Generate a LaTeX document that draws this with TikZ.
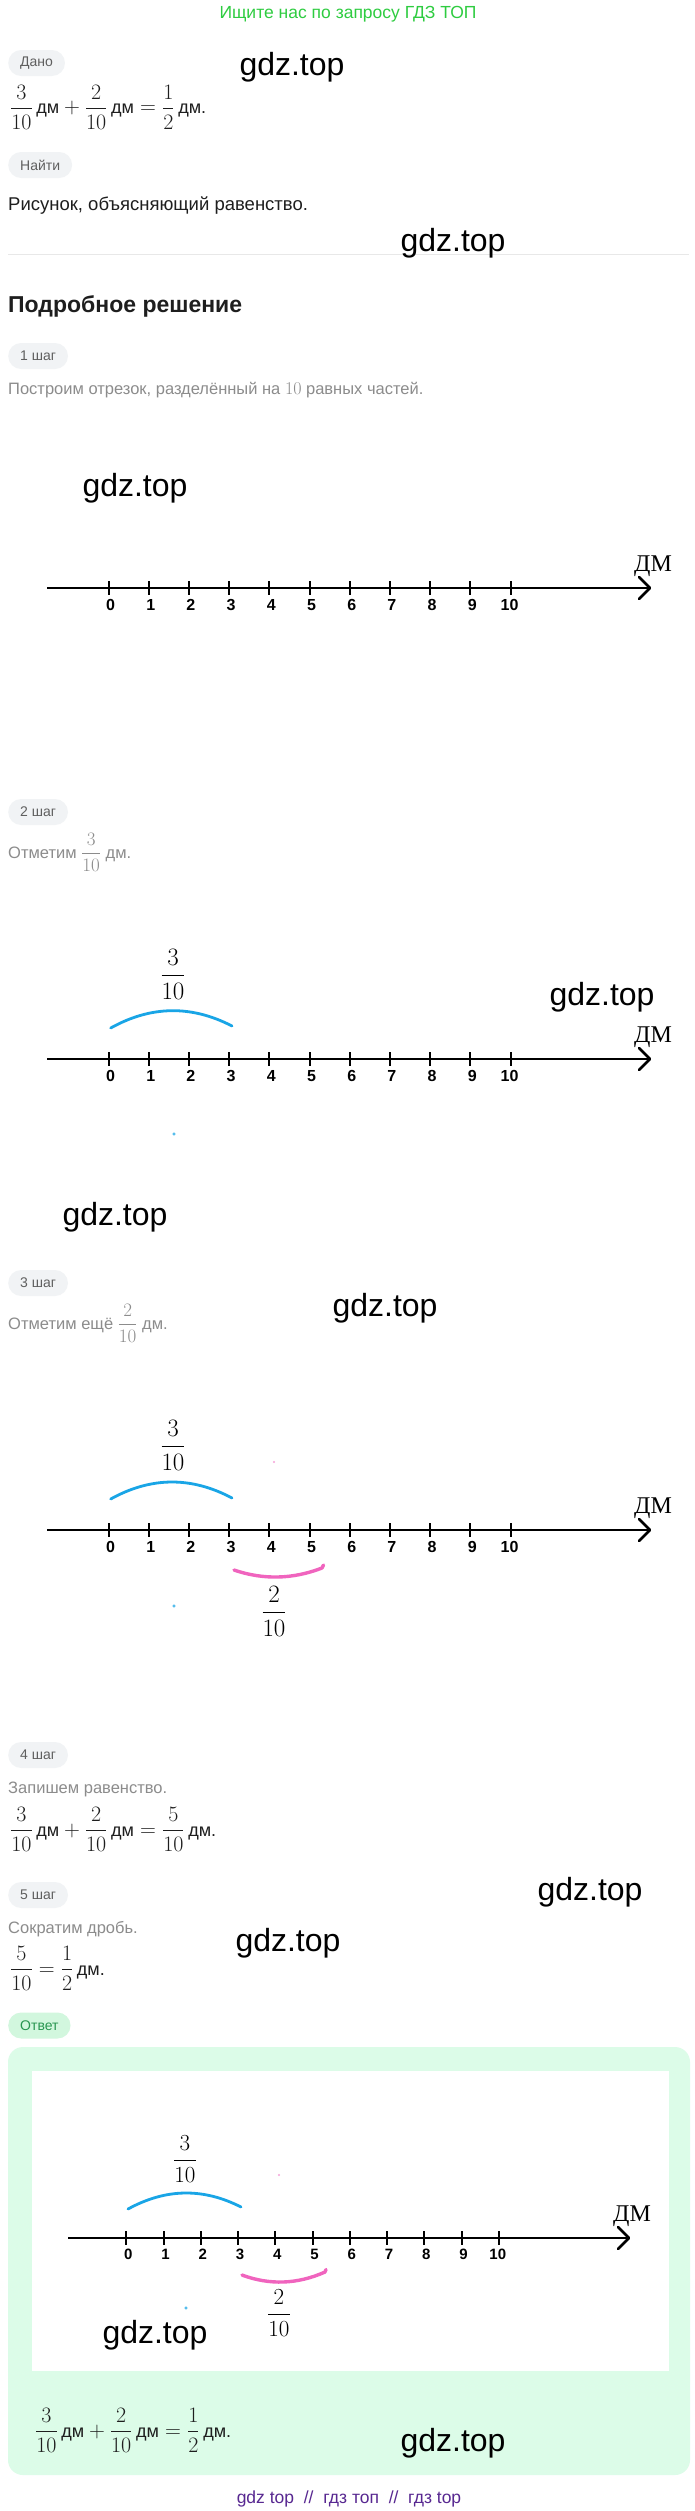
\RequirePackage{fix-cm}
\documentclass[tikz,border=0pt]{standalone}
\usepackage{amsmath}
\usepackage{fontspec}
\setmainfont{Liberation Sans}
\newfontfamily\serifru{Liberation Serif}
\definecolor{hdrgreen}{RGB}{46,204,64}
\definecolor{pillgray}{RGB}{241,243,245}
\definecolor{pilltext}{RGB}{95,95,95}
\definecolor{steptext}{RGB}{140,140,140}
\definecolor{bodytext}{RGB}{30,30,30}
\definecolor{arcblue}{RGB}{25,165,230}
\definecolor{arcpink}{RGB}{240,100,190}
\definecolor{ansfill}{RGB}{220,252,232}
\definecolor{anspill}{RGB}{210,247,222}
\definecolor{anstext}{RGB}{40,150,80}
\definecolor{footpurple}{RGB}{88,40,145}
\definecolor{sepgray}{RGB}{232,232,232}
\newcommand\dmu{\text{\fontsize{18}{20}\selectfont дм}}
\newcommand\dmp{\text{\fontsize{18}{20}\selectfont дм.}}
\newcommand\numaxis[7]{%
  % #1 prefix, #2 x0, #3 dx, #4 y, #5 xstart, #6 xend(tip), #7 label size
  \draw[axisline] (#5,#4) coordinate (#1s) -- (#6,#4) coordinate (#1e);
  \draw[axisline, line join=round, line cap=round] (#6-11,#4-11) -- (#1e) -- (#6-11,#4+11);
  \foreach \i in {0,...,10} {
    \pgfmathsetmacro\xx{#2+\i*#3}
    \pgfmathsetmacro\lx{\xx+(\i<10 ? 2 : -1)}
    \draw[tickline] (\xx,#4-7) -- (\xx,#4+7);
    \node[ticklbl, font=\bfseries\fontsize{#7}{#7}\selectfont] (#1n\i) at (\lx,#4+6+#7) {\i};
  }
  \node[dmlbl] (#1dm) at (#6+3,#4-17) {ДМ};
}
\begin{document}
\begin{tikzpicture}[x=1pt,y=-1pt,
  pill/.style={rounded corners=13pt, fill=pillgray, minimum height=26pt, inner xsep=12pt, inner ysep=0pt, anchor=west, text=pilltext, font=\fontsize{14}{16}\selectfont},
  txt/.style={inner sep=0pt, anchor=base west},
  steptxt/.style={inner sep=0pt, anchor=base west, text=steptext, font=\fontsize{16.5}{19}\selectfont},
  eqn/.style={inner sep=0pt, anchor=west, text=bodytext, font=\fontsize{22}{26}\selectfont},
  wm/.style={inner sep=0pt, font=\fontsize{32}{36}\selectfont, text=black},
  axisline/.style={line width=2.6pt},
  tickline/.style={line width=2pt},
  ticklbl/.style={inner sep=0pt, anchor=base},
  dmlbl/.style={inner sep=0pt, anchor=base, font=\serifru\fontsize{24}{26}\selectfont},
  frac/.style={inner sep=0pt, font=\fontsize{25}{30}\selectfont},
  barc/.style={draw=arcblue, line width=2.8pt, line cap=round},
  parc/.style={draw=arcpink, line width=3.4pt, line cap=round, line join=round},
  dotb/.style={draw=arcblue, line width=0.5pt},
  dotp/.style={fill=arcpink!60}]
\useasboundingbox (0,0) rectangle (695,2511);
\fill[white] (0,0) rectangle (695,2511);

% header
\node[inner sep=0pt, anchor=base, text=hdrgreen, font=\fontsize{17.5}{20}\selectfont] (hdr) at (348,18) {Ищите нас по запросу ГДЗ ТОП};

% Дано
\node[pill] (pDano) at (8,63) {Дано};
\node[eqn] (eqDano) at (10,107) {$\dfrac{3}{10}\,\dmu+\dfrac{2}{10}\,\dmu=\dfrac{1}{2}\,\dmp$};
\node[pill] (pFind) at (8,165) {Найти};
\node[txt, text=bodytext, font=\fontsize{18.5}{21}\selectfont] (find) at (8,210) {Рисунок, объясняющий равенство.};
\draw[sepgray, line width=1pt] (8,254) -- (689,254);
\node[txt, text=bodytext, font=\bfseries\fontsize{23}{27}\selectfont] (title) at (8,312) {Подробное решение};

% step 1
\node[pill] (p1) at (8,356) {1 шаг};
\node[steptxt] (t1) at (8,394.5) {Построим отрезок, разделённый на {\fontsize{18}{20}\selectfont$10$} равных частей.};
\numaxis{A}{108.5}{40.2}{588}{47}{650}{16}

% step 2
\node[pill] (p2) at (8,812) {2 шаг};
\node[steptxt, anchor=west] (t2) at (8,852) {Отметим {\fontsize{19}{22}\selectfont$\dfrac{3}{10}$} дм.};
\numaxis{B}{108.5}{40.2}{1059}{47}{650}{16}
\path[barc] (110.7,1028) .. controls (150.9,1005.6) and (191.3,1004.9) .. (232,1026);
\node[frac] (fB) at (173,974) {$\dfrac{3}{10}$};
\draw[dotb] (174,1134) circle (1.2);

% step 3
\node[pill] (p3) at (8,1283) {3 шаг};
\node[steptxt, anchor=west] (t3) at (8,1323) {Отметим ещё {\fontsize{19}{22}\selectfont$\dfrac{2}{10}$} дм.};
\numaxis{C}{108.5}{40.2}{1530}{47}{650}{16}
\path[barc] (110.7,1499) .. controls (150.9,1476.7) and (191.3,1476.3) .. (232,1498);
\node[frac] (fC1) at (173,1445) {$\dfrac{3}{10}$};
\path[parc] (234,1570) .. controls (263.3,1580) and (292.7,1579.3) .. (322,1568) -- (323.5,1565);
\node[frac] (fC2) at (274,1611) {$\dfrac{2}{10}$};
\fill[dotp] (274,1462) circle (1.2);
\draw[dotb] (174,1606) circle (1.2);

% step 4
\node[pill] (p4) at (8,1755) {4 шаг};
\node[steptxt] (t4) at (8,1793.5) {Запишем равенство.};
\node[eqn] (eq4) at (10,1829) {$\dfrac{3}{10}\,\dmu+\dfrac{2}{10}\,\dmu=\dfrac{5}{10}\,\dmp$};

% step 5
\node[pill] (p5) at (8,1895) {5 шаг};
\node[steptxt] (t5) at (8,1933.5) {Сократим дробь.};
\node[eqn] (eq5) at (10,1968) {$\dfrac{5}{10}=\dfrac{1}{2}\,\dmp$};

% answer
\node[pill, fill=anspill, text=anstext] (pAns) at (8,2025.5) {Ответ};
\fill[ansfill, rounded corners=15pt] (8,2047) rectangle (690,2475);
\fill[white] (32,2071) rectangle (669,2371);
\numaxis{D}{126.3}{37.25}{2238}{68}{629}{15}
\path[barc] (128,2209) .. controls (165.7,2188.3) and (203.3,2187.7) .. (241,2207);
\node[frac, font=\fontsize{23}{28}\selectfont] (fD1) at (185,2159) {$\dfrac{3}{10}$};
\path[parc] (242,2275) .. controls (269.7,2285.3) and (297.3,2284.3) .. (325,2272) -- (326,2269.5);
\node[frac, font=\fontsize{23}{28}\selectfont] (fD2) at (279,2313) {$\dfrac{2}{10}$};
\fill[dotp] (279,2175) circle (1.2);
\draw[dotb] (186,2308) circle (1.2);
\node[eqn] (eqAns) at (35,2430) {$\dfrac{3}{10}\,\dmu+\dfrac{2}{10}\,\dmu=\dfrac{1}{2}\,\dmp$};

% footer
\node[inner sep=0pt, anchor=base, text=footpurple, font=\fontsize{17.5}{20}\selectfont] (foot) at (349,2503) {gdz top \ // \ гдз топ \ // \ гдз top};

% watermarks
\node[wm] (w1) at (292,67) {gdz.top};
\node[wm] (w2) at (453,243) {gdz.top};
\node[wm] (w3) at (135,488) {gdz.top};
\node[wm] (w4) at (602,997) {gdz.top};
\node[wm] (w5) at (115,1217) {gdz.top};
\node[wm] (w6) at (385,1308) {gdz.top};
\node[wm] (w7) at (590,1892) {gdz.top};
\node[wm] (w8) at (288,1943) {gdz.top};
\node[wm] (w9) at (155,2335) {gdz.top};
\node[wm] (w10) at (453,2443) {gdz.top};
\end{tikzpicture}
\end{document}
